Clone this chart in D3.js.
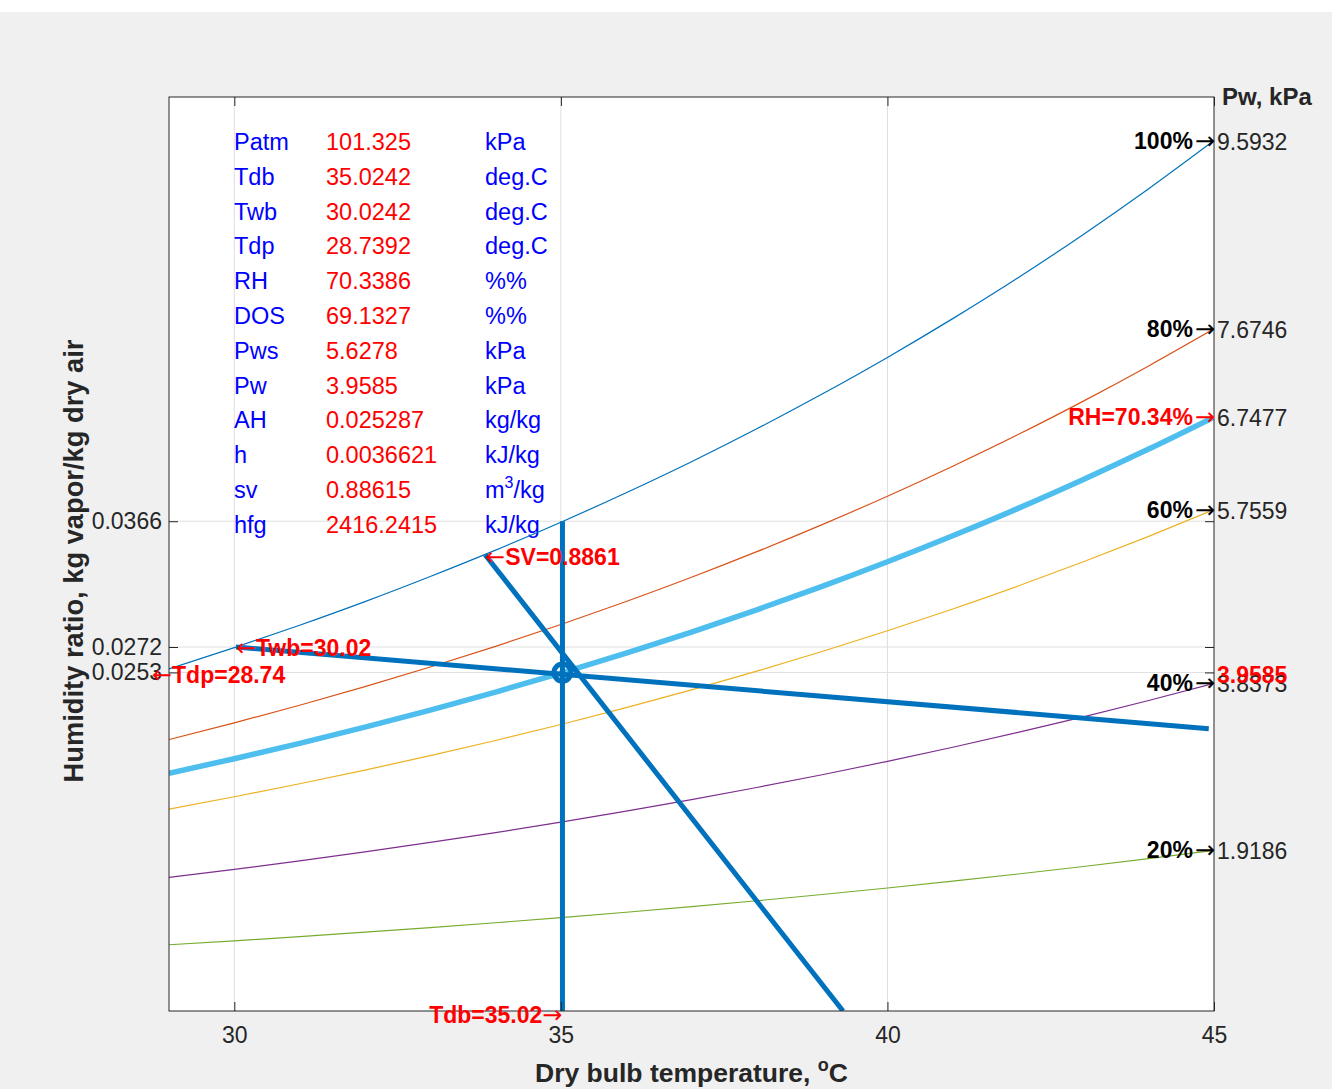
<!DOCTYPE html>
<html>
<head>
<meta charset="utf-8">
<script src="https://cdn.jsdelivr.net/npm/d3@7"></script>
<style>
  html, body { margin: 0; padding: 0; background: #fff; }
  svg { display: block; font-family: "Liberation Sans", Arial, sans-serif; }
</style>
</head>
<body>
<svg id="chart" width="1332" height="1089"></svg>
<script>
// Dry bulb temperatures (deg C) at which the RH curves are tabulated
const tempC = [29, 30, 31, 32, 33, 34, 35, 36, 37, 38, 39, 40, 41, 42, 43, 44, 45];

// Humidity ratio (kg vapor / kg dry air) along each relative humidity curve
const rh100 = [0.025564, 0.027151, 0.028827, 0.030593, 0.032470, 0.034440, 0.036525, 0.038728, 0.041049,
               0.043507, 0.046103, 0.048841, 0.051738, 0.054791, 0.058033, 0.061448, 0.065048];
const rh80  = [0.020284, 0.021533, 0.022850, 0.024236, 0.025708, 0.027250, 0.028881, 0.030601, 0.032411,
               0.034325, 0.036344, 0.038469, 0.040713, 0.043074, 0.045576, 0.048206, 0.050973];
const rh60  = [0.015090, 0.016011, 0.016982, 0.018001, 0.019084, 0.020216, 0.021412, 0.022672, 0.023996,
               0.025394, 0.026865, 0.028412, 0.030043, 0.031756, 0.033567, 0.035467, 0.037462];
const rh40  = [0.009979, 0.010583, 0.011219, 0.011886, 0.012594, 0.013333, 0.014113, 0.014933, 0.015794,
               0.016702, 0.017656, 0.018657, 0.019711, 0.020816, 0.021983, 0.023204, 0.024483];
const rh20  = [0.004950, 0.005247, 0.005559, 0.005887, 0.006234, 0.006596, 0.006977, 0.007378, 0.007798,
               0.008240, 0.008704, 0.009191, 0.009702, 0.010237, 0.010800, 0.011389, 0.012005];
const rhState = [0.017764, 0.018853, 0.020001, 0.021209, 0.022490, 0.023833, 0.025251, 0.026746, 0.028319,
                 0.029980, 0.031730, 0.033572, 0.035515, 0.037558, 0.039720, 0.041990, 0.044377];

// Curve labels and vapour pressure (kPa) at the 45 deg C end of each curve
const rhNames  = ["100%", "80%", "60%", "40%", "20%"];
const rhPwEnd  = ["9.5932", "7.6746", "5.7559", "3.8373", "1.9186"];
const rhColors = ["#0072BD", "#D95319", "#EDB120", "#7E2F8E", "#77AC30"];

// State point
const stateTdb = 35.0242, stateW = 0.025287, stateTwb = 30.0242, stateTdp = 28.7392;
const stateWsTwb = 0.0272, stateWsTdb = 0.0366;
const stateRH = "RH=70.34%", statePwEnd = "6.7477", statePw = "3.9585";
// Constant wet bulb and specific volume lines (T, W) end points
const wetBulbLine = [[30.0242, 0.0272], [44.92, 0.0211]];
const volumeLine  = [[33.84, 0.0341], [39.32, 0.0]];

// Property table
const propNames  = ["Patm", "Tdb", "Twb", "Tdp", "RH", "DOS", "Pws", "Pw", "AH", "h", "sv", "hfg"];
const propValues = ["101.325", "35.0242", "30.0242", "28.7392", "70.3386", "69.1327", "5.6278",
                    "3.9585", "0.025287", "0.0036621", "0.88615", "2416.2415"];
const propUnits  = ["kPa", "deg.C", "deg.C", "deg.C", "%%", "%%", "kPa", "kPa", "kg/kg", "kJ/kg", "m3/kg", "kJ/kg"];

// Axis ticks
const xTicks = [30, 35, 40, 45];
const yTicks = [0.0253, 0.0272, 0.0366];

const W = 1332, H = 1089;
const L = 169, R = 1214, T = 97, B = 1011;
const FS = 23;
const ARROW_FONT = "DejaVu Sans, sans-serif";
const svg = d3.select("#chart");

// figure background
svg.append("rect").attr("width", W).attr("height", H).attr("fill", "#ffffff");
svg.append("rect").attr("y", 12).attr("width", W).attr("height", H - 12).attr("fill", "#f0f0f0");
svg.append("rect").attr("x", L).attr("y", T).attr("width", R - L).attr("height", B - T).attr("fill", "#ffffff");

const x = d3.scaleLinear().domain([29, 45]).range([L, R]);
const y = d3.scaleLinear().domain([0, 0.0683]).range([B, T]);

svg.append("clipPath").attr("id", "plotclip")
  .append("rect").attr("x", L).attr("y", T).attr("width", R - L).attr("height", B - T);

// grid
const grid = svg.append("g").attr("stroke", "#dfdfdf").attr("stroke-width", 1);
xTicks.filter(t => t < 45).forEach(t => {
  grid.append("line").attr("x1", x(t)).attr("x2", x(t)).attr("y1", T).attr("y2", B);
});
yTicks.forEach(t => {
  grid.append("line").attr("x1", L).attr("x2", R).attr("y1", y(t)).attr("y2", y(t));
});

// property table
const tableG = svg.append("g").attr("font-size", 23.5);
propNames.forEach((n, i) => {
  const by = 150 + i * 34.8;
  tableG.append("text").attr("x", 234).attr("y", by).attr("fill", "#0000ff").text(n);
  tableG.append("text").attr("x", 326).attr("y", by).attr("fill", "#ff0000").text(propValues[i]);
  const u = tableG.append("text").attr("x", 485).attr("y", by).attr("fill", "#0000ff");
  if (propUnits[i] === "m3/kg") {
    u.append("tspan").text("m");
    u.append("tspan").attr("dy", -10).attr("font-size", 16).text("3");
    u.append("tspan").attr("dy", 10).text("/kg");
  } else {
    u.text(propUnits[i]);
  }
});

// RH curves
const line = d3.line().x(d => x(d[0])).y(d => y(d[1])).curve(d3.curveMonotoneX);
const plot = svg.append("g").attr("clip-path", "url(#plotclip)");
const curves = [rh100, rh80, rh60, rh40, rh20];
curves.forEach((c, i) => {
  plot.append("path")
    .attr("d", line(tempC.map((t, k) => [t, c[k]])))
    .attr("fill", "none").attr("stroke", rhColors[i]).attr("stroke-width", 1.2);
});
plot.append("path")
  .attr("d", line(tempC.map((t, k) => [t, rhState[k]])))
  .attr("fill", "none").attr("stroke", "#4DBEEE").attr("stroke-width", 5.5);

// state lines
const straight = d3.line().x(d => x(d[0])).y(d => y(d[1]));
const stateBlue = "#0072BD";
plot.append("path").attr("d", straight([[stateTdb, 0], [stateTdb, stateWsTdb]]))
  .attr("stroke", stateBlue).attr("stroke-width", 5).attr("fill", "none");
plot.append("path").attr("d", straight(wetBulbLine))
  .attr("stroke", stateBlue).attr("stroke-width", 5).attr("fill", "none");
plot.append("path").attr("d", straight(volumeLine))
  .attr("stroke", stateBlue).attr("stroke-width", 5).attr("fill", "none");
svg.append("circle").attr("cx", x(stateTdb)).attr("cy", y(stateW)).attr("r", 8.5)
  .attr("fill", "none").attr("stroke", stateBlue).attr("stroke-width", 5);

// axes box and ticks
const axisColor = "#262626";
function styleAxis(g, showText) {
  g.select(".domain").remove();
  g.selectAll(".tick line").attr("stroke", axisColor);
  g.selectAll(".tick text").attr("fill", axisColor).attr("font-size", FS)
    .attr("font-family", "Liberation Sans, Arial, sans-serif");
  if (!showText) g.selectAll(".tick text").remove();
}
svg.append("g").attr("transform", `translate(0,${B})`)
  .call(d3.axisBottom(x).tickValues(xTicks).tickSize(-9).tickPadding(16).tickFormat(d3.format("d")))
  .call(g => styleAxis(g, true));
svg.append("g").attr("transform", `translate(0,${T})`)
  .call(d3.axisTop(x).tickValues(xTicks).tickSize(-9))
  .call(g => styleAxis(g, false));
svg.append("g").attr("transform", `translate(${L},0)`)
  .call(d3.axisLeft(y).tickValues(yTicks).tickSize(-9).tickPadding(7).tickFormat(d3.format(".4f")))
  .call(g => styleAxis(g, true));
svg.append("g").attr("transform", `translate(${R},0)`)
  .call(d3.axisRight(y).tickValues(yTicks).tickSize(-9))
  .call(g => styleAxis(g, false));
svg.append("rect").attr("x", L).attr("y", T).attr("width", R - L).attr("height", B - T)
  .attr("fill", "none").attr("stroke", axisColor).attr("stroke-width", 1);

// axis titles
const xl = svg.append("text").attr("x", (L + R) / 2).attr("y", 1082).attr("text-anchor", "middle")
  .attr("font-size", 26.5).attr("font-weight", "bold").attr("fill", axisColor);
xl.append("tspan").text("Dry bulb temperature, ");
xl.append("tspan").attr("dy", -11).attr("font-size", 18).text("o");
xl.append("tspan").attr("dy", 11).text("C");

svg.append("text").attr("transform", `translate(83,561) rotate(-90)`)
  .attr("text-anchor", "middle").attr("font-size", 27.3).attr("font-weight", "bold").attr("fill", axisColor)
  .text("Humidity ratio, kg vapor/kg dry air");

svg.append("text").attr("x", 1222).attr("y", 105).attr("font-size", 24).attr("font-weight", "bold")
  .attr("fill", axisColor).text("Pw, kPa");

// RH curve end labels
const lbl = svg.append("g").attr("font-size", FS);
function endLabel(py, name, color) {
  const t = lbl.append("text").attr("x", R + 1).attr("y", py + 8).attr("text-anchor", "end").attr("fill", color);
  t.append("tspan").attr("font-weight", "bold").text(name);
  t.append("tspan").attr("font-family", ARROW_FONT).attr("font-size", 24).attr("dx", 2).text("→");
}
curves.forEach((c, i) => {
  const py = y(c[c.length - 1]);
  endLabel(py, rhNames[i], "#000000");
  lbl.append("text").attr("x", R + 3).attr("y", py + 9).attr("fill", axisColor).text(rhPwEnd[i]);
});
{
  const py = y(rhState[rhState.length - 1]);
  endLabel(py, stateRH, "#ff0000");
  lbl.append("text").attr("x", R + 3).attr("y", py + 9).attr("fill", axisColor).text(statePwEnd);
  lbl.append("text").attr("x", R + 3).attr("y", y(stateW) + 10).attr("fill", "#ff0000")
    .attr("font-weight", "bold").text(statePw);
}

// state annotations
function note(tx, ty, arrowLeft, body, anchor) {
  const t = lbl.append("text").attr("x", tx).attr("y", ty).attr("fill", "#ff0000")
    .attr("text-anchor", anchor || "start");
  const arrow = () => t.append("tspan").attr("font-family", ARROW_FONT).attr("font-size", 24);
  if (arrowLeft) {
    arrow().text("←");
    t.append("tspan").attr("font-weight", "bold").text(body);
  } else {
    t.append("tspan").attr("font-weight", "bold").text(body);
    arrow().text("→");
  }
}
note(x(volumeLine[0][0]), y(volumeLine[0][1]) + 10, true, "SV=0.8861");
note(x(stateTwb), y(stateWsTwb) + 9, true, "Twb=30.02");
note(x(stateTdp), y(stateW) + 10, true, "Tdp=28.74");
note(x(stateTdb), B + 12, false, "Tdb=35.02", "end");
</script>
</body>
</html>
